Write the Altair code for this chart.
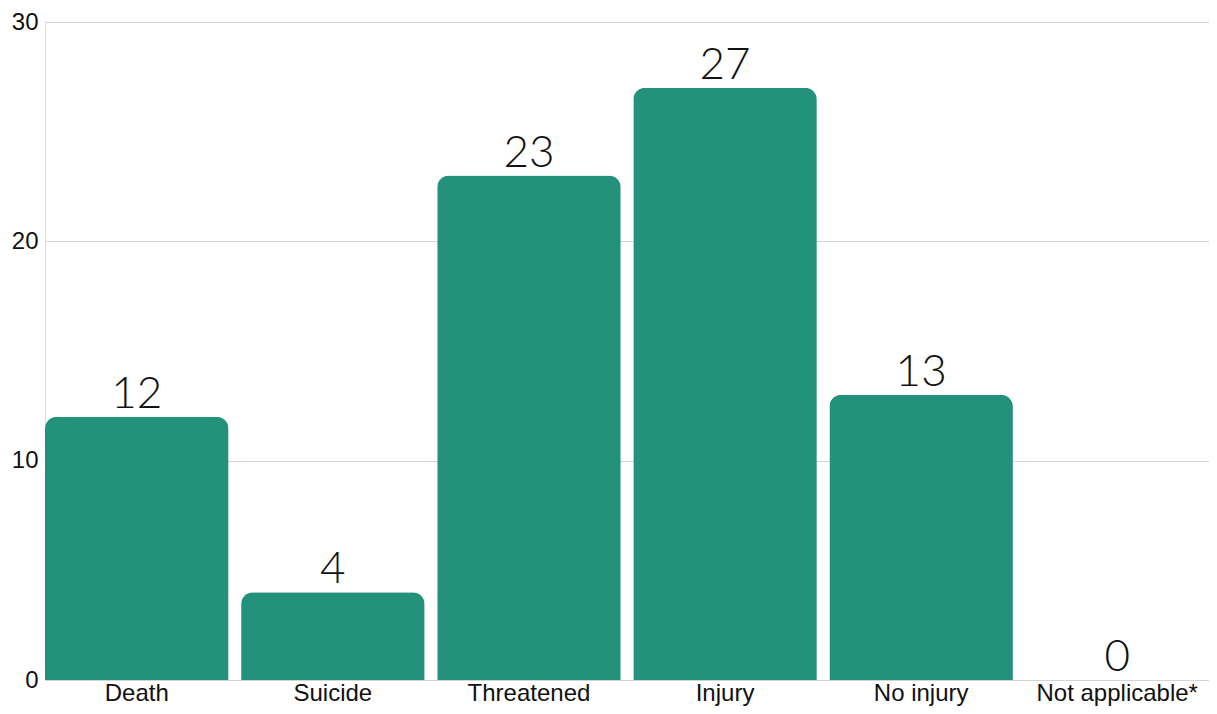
import altair as alt
import pandas as pd

categories = ["Death", "Suicide", "Threatened", "Injury", "No injury", "Not applicable*"]
counts = [12, 4, 23, 27, 13, 0]

df = pd.DataFrame({"category": categories, "count": counts})

x = alt.X("category:N", sort=categories, title=None,
          scale=alt.Scale(paddingInner=0.064, paddingOuter=0),
          axis=alt.Axis(labelAngle=0, labelFont="Liberation Sans", labelFontSize=24,
                        labelColor="#111111", labelPadding=1, ticks=False, domain=False))
y = alt.Y("count:Q", title=None,
          scale=alt.Scale(domain=[0, 30], nice=False),
          axis=alt.Axis(values=[0, 10, 20, 30], labelFont="Liberation Sans", labelFontSize=24,
                        labelColor="#111111", labelPadding=7, ticks=False, domain=False,
                        grid=True, gridColor="#d4d4d4", gridWidth=1.2))

bars = alt.Chart(df).mark_bar(color="#24927a", cornerRadiusTopLeft=12,
                              cornerRadiusTopRight=12).encode(x=x, y=y)
labels = alt.Chart(df).mark_text(font="Lato", fontWeight=300, fontSize=44, baseline="bottom",
                                 dy=0, color="#111111").encode(
    x=alt.X("category:N", sort=categories), y="count:Q", text="count:Q")

chart = (bars + labels).properties(
    width=1164, height=658,
    autosize=alt.AutoSizeParams(type="none"),
    padding={"left": 37, "top": 14, "right": 0, "bottom": 26},
).configure_view(stroke=None).configure(background="white")

chart.save("out.html", embed_options={"renderer": "svg", "actions": False})
